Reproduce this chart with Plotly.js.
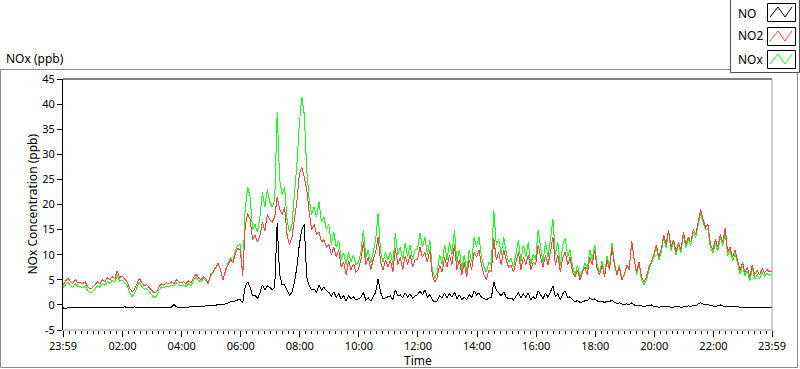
<!DOCTYPE html>
<html>
<head>
<meta charset="utf-8">
<script src="https://cdn.plot.ly/plotly-3.0.1.min.js"></script>
<style>
html,body{margin:0;padding:0;background:#fff;}
#chart{width:800px;height:369px;}
#chart .scatterlayer path.js-line{shape-rendering:crispEdges;}
</style>
</head>
<body>
<div id="chart"></div>
<script>
// ---- Data (5-minute readings from 23:59 to 23:59 next day) ----
const startTime = '2020-01-01T23:59:00';
const stepMinutes = 5;

const NO2 = [
 4.0,4.8,5.4,4.6,4.3,5.0,4.4,4.5,4.2,4.6,3.6,3.2,
 3.4,4.0,4.6,4.2,5.0,4.6,5.4,5.0,5.6,5.2,6.8,5.4,
 5.8,5.2,4.6,3.4,2.6,3.0,4.2,5.3,4.4,3.8,4.0,3.4,
 2.8,2.4,2.6,3.6,4.2,4.0,4.4,4.2,4.6,4.2,5.0,4.6,
 4.4,4.6,4.2,4.8,4.4,5.2,6.2,5.4,5.0,5.6,5.2,4.4,
 6.0,6.6,7.4,8.3,7.0,5.0,6.8,8.0,9.0,8.4,10.2,11.2,
 11.0,5.8,15.5,18.3,17.0,13.0,14.0,12.5,13.8,16.5,14.8,18.0,
 17.0,16.5,17.5,21.5,19.0,18.0,19.5,14.0,12.0,13.5,17.5,20.5,
 26.0,27.5,25.5,23.0,18.5,15.0,16.0,14.0,14.5,12.5,13.0,11.5,
 12.0,10.0,11.5,9.6,11.0,7.5,8.5,6.0,8.8,7.0,8.2,6.5,
 7.0,9.0,12.5,8.0,9.5,7.0,9.0,10.5,13.6,8.5,7.0,9.0,
 7.5,9.0,6.6,11.3,8.0,9.5,7.0,9.8,8.0,10.0,7.5,9.0,
 9.0,11.5,9.5,10.5,8.5,11.0,6.0,4.5,5.5,8.0,6.5,9.5,
 7.5,10.0,8.0,12.0,7.0,9.0,6.0,8.5,5.5,9.0,7.0,10.5,
 9.5,11.0,8.0,6.0,5.0,7.0,6.5,13.3,9.0,10.5,8.0,11.0,
 9.0,7.5,8.0,6.5,8.5,10.5,7.0,9.5,8.0,10.0,7.0,8.5,
 8.0,12.0,9.5,7.5,10.0,8.0,10.5,13.6,8.0,10.0,6.5,9.5,
 10.5,8.0,9.5,6.5,5.5,7.0,5.0,6.5,7.5,6.0,9.5,8.0,
 11.0,7.0,6.0,8.0,5.5,9.0,7.0,11.5,8.0,6.0,7.5,5.0,
 6.0,8.0,7.0,12.8,9.0,6.5,8.5,5.5,4.5,5.5,7.5,8.5,
 10.0,12.0,9.5,11.0,14.0,12.0,15.0,11.5,13.0,10.5,12.5,11.0,
 14.5,12.0,13.5,12.5,15.0,14.0,16.5,19.0,17.0,15.5,16.0,12.0,
 11.0,13.0,11.5,14.0,12.5,15.3,10.5,11.5,9.5,11.0,9.0,7.0,
 8.5,6.5,7.5,5.5,8.0,6.0,6.8,6.0,7.2,6.4,7.0,6.6,
 6.8
];

const NOX = [
 3.4,4.0,4.6,3.8,3.5,4.2,3.7,3.6,3.4,3.8,2.8,2.4,
 2.6,3.2,3.8,3.5,4.3,3.9,4.7,4.3,4.9,4.5,5.9,4.7,
 5.0,4.5,3.9,2.5,1.6,2.2,3.4,4.6,3.7,3.1,3.3,2.6,
 2.0,1.4,1.7,2.9,3.6,3.4,3.7,3.6,3.9,3.8,4.4,4.0,
 3.8,4.0,3.7,4.2,3.8,4.7,5.6,4.9,4.6,5.2,4.9,4.2,
 5.8,6.4,7.2,8.2,7.0,5.0,7.0,8.2,9.4,8.8,10.8,11.8,
 12.0,6.0,19.0,23.5,21.5,15.0,16.0,14.5,17.5,22.5,19.5,23.0,
 20.5,19.5,21.0,38.5,25.0,22.0,23.5,17.0,14.5,16.0,22.0,28.0,
 36.0,41.5,38.0,27.0,21.0,18.0,19.5,17.5,20.5,16.5,17.5,15.0,
 16.0,12.0,14.5,11.5,13.0,9.0,10.4,8.0,10.5,8.5,10.0,8.0,
 8.5,10.5,15.0,9.5,11.0,8.3,10.5,13.0,18.3,10.5,8.5,10.5,
 9.0,10.5,8.0,14.3,10.0,11.5,9.0,12.3,9.5,12.0,9.0,11.0,
 11.0,14.3,11.5,13.5,10.0,13.0,7.0,5.2,6.5,10.0,8.0,12.0,
 9.0,12.5,10.0,15.0,8.5,11.0,7.0,10.0,6.5,11.0,8.5,13.5,
 11.5,13.5,9.5,7.5,6.5,8.5,8.0,18.9,12.0,13.0,10.0,13.5,
 10.5,8.5,9.3,7.5,10.0,13.0,8.5,12.0,9.5,12.5,8.0,10.0,
 9.0,15.0,11.5,8.5,12.5,9.5,13.0,17.1,10.0,12.5,7.7,12.0,
 13.3,9.5,11.0,7.5,6.0,8.0,5.5,7.0,8.3,7.0,11.0,9.0,
 12.0,7.8,6.5,8.8,6.0,9.8,7.5,12.3,8.5,6.2,7.9,5.2,
 5.8,7.8,7.0,12.5,8.7,6.0,8.2,5.0,4.0,5.0,7.0,8.2,
 9.5,11.5,8.9,10.4,13.5,11.4,14.6,10.8,12.5,10.0,12.0,10.3,
 14.0,11.4,13.0,11.8,14.5,13.4,16.0,18.3,16.4,15.0,15.2,11.3,
 10.3,12.3,10.7,13.4,11.8,14.5,9.8,10.7,8.8,10.2,8.3,6.2,
 7.8,5.8,6.8,4.8,7.3,5.2,6.0,5.3,6.5,5.7,6.3,5.9,
 6.1
];

const NO = [
 -0.6,-0.7,-0.6,-0.6,-0.7,-0.6,-0.6,-0.7,-0.6,-0.6,-0.7,-0.6,
 -0.6,-0.6,-0.5,-0.6,-0.6,-0.5,-0.6,-0.5,-0.5,-0.6,-0.5,-0.5,
 -0.5,-0.4,-0.5,-0.5,-0.5,-0.4,-0.5,-0.5,-0.5,-0.6,-0.5,-0.5,
 -0.5,-0.6,-0.5,-0.5,-0.5,-0.6,-0.5,-0.5,-0.5,0.1,-0.4,-0.5,
 -0.5,-0.5,-0.4,-0.4,-0.4,-0.3,-0.3,-0.3,-0.2,-0.2,-0.2,-0.2,
 -0.1,-0.1,0.0,0.0,0.1,0.0,0.2,0.4,0.6,0.6,0.8,1.0,
 1.0,0.4,3.6,4.6,3.6,1.8,2.0,1.2,2.4,4.0,3.0,3.8,
 3.5,3.0,3.6,16.3,6.0,4.0,4.0,3.0,2.0,2.5,4.5,7.5,
 12.0,15.0,16.0,5.5,3.8,3.0,3.2,2.5,4.0,3.0,3.5,2.8,
 2.5,1.8,2.6,1.5,2.2,1.2,1.8,0.8,1.8,1.2,1.6,1.0,
 1.2,1.5,2.5,1.0,1.4,0.8,1.6,2.5,5.2,2.5,1.2,1.4,
 1.5,1.8,1.0,3.0,1.8,2.0,1.4,2.4,1.6,2.2,1.3,1.8,
 2.0,2.8,2.0,3.0,1.5,2.0,1.0,0.6,0.8,1.8,1.4,2.4,
 1.4,2.2,1.6,2.6,1.2,2.0,1.0,1.5,1.0,2.0,1.5,2.8,
 2.0,2.4,1.5,1.2,1.0,1.4,1.4,4.6,3.0,2.4,1.8,2.6,
 1.6,1.2,1.4,1.0,1.6,2.4,1.4,2.2,1.5,2.4,1.0,1.6,
 1.2,2.8,2.0,1.2,2.4,1.5,2.6,3.8,1.6,2.2,1.0,2.2,
 2.8,1.5,1.6,1.0,0.6,0.9,0.5,0.6,0.8,0.8,1.4,1.0,
 1.2,0.8,0.6,0.8,0.4,0.8,0.6,1.0,0.5,0.3,0.4,0.2,
 0.1,0.2,0.0,0.4,0.0,-0.2,0.0,-0.2,-0.3,-0.2,-0.1,0.0,
 -0.4,-0.3,-0.5,-0.3,-0.4,-0.4,-0.3,-0.5,-0.4,-0.4,-0.3,-0.5,
 -0.4,-0.3,-0.2,-0.3,-0.1,-0.2,0.2,0.4,0.2,0.0,0.1,-0.2,
 -0.2,-0.3,-0.2,0.0,-0.2,-0.3,-0.4,-0.3,-0.4,-0.3,-0.4,-0.5,
 -0.5,-0.6,-0.5,-0.6,-0.5,-0.6,-0.6,-0.6,-0.6,-0.6,-0.6,-0.6,
 -0.6
];

const seriesNames = ['NO', 'NO2', 'NOx'];
const seriesColors = ['#000000', '#ff4040', '#19ff19'];

const xTickVals = ['2020-01-01 23:59','2020-01-02 02:00','2020-01-02 04:00','2020-01-02 06:00',
  '2020-01-02 08:00','2020-01-02 10:00','2020-01-02 12:00','2020-01-02 14:00','2020-01-02 16:00',
  '2020-01-02 18:00','2020-01-02 20:00','2020-01-02 22:00','2020-01-02 23:59'];
const xTickText = ['23:59','02:00','04:00','06:00','08:00','10:00','12:00','14:00','16:00',
  '18:00','20:00','22:00','23:59'];
const yTickVals = [-5,0,5,10,15,20,25,30,35,40,45];
const yTickText = ['-5','0','5','10','15','20','25','30','35','40','45'];

// ---- time stamps ----
function pad(n){return (n<10?'0':'')+n;}
const t0 = new Date(startTime + 'Z').getTime();
const times = NO2.map((_, i) => {
  const d = new Date(t0 + i*stepMinutes*60000);
  return d.getUTCFullYear()+'-'+pad(d.getUTCMonth()+1)+'-'+pad(d.getUTCDate())+' '+pad(d.getUTCHours())+':'+pad(d.getUTCMinutes());
});

const FONT = 'Noto Sans, DejaVu Sans, sans-serif';

const traces = [
  {x: times, y: NOX, name: seriesNames[2], type:'scatter', mode:'lines', line:{color:seriesColors[2], width:1}},
  {x: times, y: NO2, name: seriesNames[1], type:'scatter', mode:'lines', line:{color:seriesColors[1], width:1}},
  {x: times, y: NO,  name: seriesNames[0], type:'scatter', mode:'lines', line:{color:seriesColors[0], width:1}}
];

// ---- pixel -> paper helpers for decorations ----
const PL = 63, PR = 772, PT = 79, PB = 330;
const px = X => (X - PL) / (PR - PL);
const py = Y => (PB - Y) / (PB - PT);

const shapes = [
  {type:'rect', xref:'paper', yref:'paper', x0:px(0.5), x1:px(797.5), y0:py(367.5), y1:py(69.5), line:{color:'#8c8c8c', width:1}, fillcolor:'rgba(0,0,0,0)', layer:'below'},
  {type:'line', xref:'paper', yref:'paper', x0:0, x1:1, y0:1, y1:1, line:{color:'#000', width:1}},
  {type:'line', xref:'paper', yref:'paper', x0:1, x1:1, y0:0, y1:1, line:{color:'#a0a0a0', width:1}},
  {type:'line', xref:'paper', yref:'paper', x0:0, x1:1, y0:0, y1:0, line:{color:'#a0a0a0', width:1}},
  {type:'rect', xref:'paper', yref:'paper', x0:px(730.5), x1:px(799.5), y0:py(72.5), y1:py(-1), line:{color:'#505050', width:1}, fillcolor:'#ffffff'}
];
const annotations = [
  {text:'NOx (ppb)', xref:'paper', yref:'paper', x:px(4), y:py(58), xanchor:'left', yanchor:'middle', showarrow:false, font:{family:FONT, size:12, color:'#000'}},
  {text:'NOx Concentration (ppb)', xref:'paper', yref:'paper', x:px(32), y:0.5, xanchor:'center', yanchor:'middle', textangle:-90, showarrow:false, font:{family:FONT, size:12, color:'#000'}},
  {text:'Time', xref:'paper', yref:'paper', x:0.5, y:py(360), xanchor:'center', yanchor:'middle', showarrow:false, font:{family:FONT, size:12, color:'#000'}}
];
const boxTops = [3, 27, 50];
const textY = [13, 36, 59];
[0,1,2].forEach((k, j) => {
  annotations.push({text: seriesNames[k], xref:'paper', yref:'paper', x:px(736), y:py(textY[j]), xanchor:'left', yanchor:'middle', showarrow:false, font:{family:FONT, size:12, color:'#000'}});
  const bx0 = 767, bx1 = 795, by0 = boxTops[j], by1 = boxTops[j] + 18;
  shapes.push({type:'rect', xref:'paper', yref:'paper', x0:px(bx0+0.5), x1:px(bx1+0.5), y0:py(by1+0.5), y1:py(by0+0.5), line:{color:'#000', width:1}, fillcolor:'#fff'});
  const pts = [[bx0+3, by1-4],[bx0+11, by0+4],[bx0+18, by1-4],[bx1-3, by0+4]];
  const path = 'M ' + pts.map(p => px(p[0]) + ',' + py(p[1])).join(' L ');
  shapes.push({type:'path', xref:'paper', yref:'paper', path: path, line:{color:seriesColors[k], width:1}});
});

const layout = {
  width: 800, height: 369,
  margin: {l: PL, r: 800 - PR, t: PT, b: 369 - PB, pad: 0},
  paper_bgcolor: '#fff', plot_bgcolor: '#fff',
  showlegend: false,
  hovermode: false,
  font: {family: FONT, size: 11, color: '#000'},
  xaxis: {
    type: 'date',
    range: [xTickVals[0], xTickVals[xTickVals.length-1]],
    tickmode: 'array', tickvals: xTickVals, ticktext: xTickText,
    ticks: 'outside', ticklen: 6, tickwidth: 1, tickcolor: '#000',
    showgrid: false, zeroline: false, showline: false,
    tickfont: {family: FONT, size: 11, color: '#000'},
    minor: {ticks: 'outside', ticklen: 3, tickwidth: 1, tickcolor: '#000', tick0: '2020-01-02 00:00', dtick: 720000, showgrid: false}
  },
  yaxis: {
    range: [-5, 45],
    tickmode: 'array', tickvals: yTickVals, ticktext: yTickText,
    ticks: 'outside', ticklen: 5, tickwidth: 1, tickcolor: '#000',
    showgrid: false, zeroline: false, showline: true, linecolor: '#000', linewidth: 1,
    tickfont: {family: FONT, size: 11, color: '#000'}
  },
  shapes: shapes,
  annotations: annotations
};

Plotly.newPlot('chart', traces, layout, {staticPlot: true, displayModeBar: false});
</script>
</body>
</html>
